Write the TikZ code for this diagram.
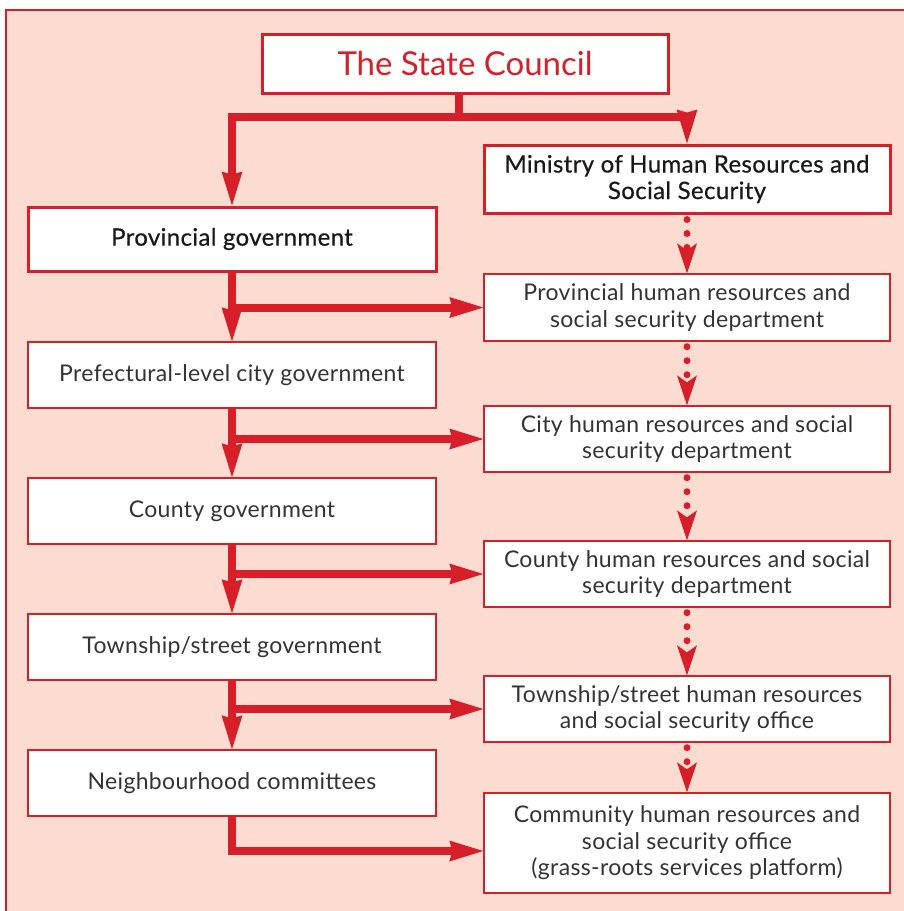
\documentclass[tikz,border=0pt]{standalone}
\usepackage{fontspec}
\setmainfont[LetterSpace=1.5]{Lato}
\newfontfamily\medfont[FakeBold=0.5,LetterSpace=1.5]{Lato}
\newfontfamily\titlefont{Lato}
\usetikzlibrary{arrows.meta}
\definecolor{cred}{HTML}{D71F2A}
\definecolor{cbg}{HTML}{FCDCD0}
\definecolor{ctext}{HTML}{333333}
\begin{document}
\begin{tikzpicture}[x=1pt,y=-1pt,
  box/.style={draw=cred, fill=white, line width=1.4pt, inner sep=0pt, align=center,
    minimum width=408pt, minimum height=66pt, text=ctext,
    font=\fontsize{23pt}{26.5pt}\selectfont},
  rbox/.style={box, minimum width=406pt},
  bold/.style={line width=3pt, font=\medfont\fontsize{24pt}{26.5pt}\selectfont, text=black!90},
  line/.style={draw=cred, line width=8pt, line join=miter},
  arr/.style={line, -{Stealth[length=34pt,width=21pt,inset=3pt,line width=0pt]}},
  dotarr/.style={draw=cred, line width=7pt, line cap=round, dash pattern=on 0pt off 14pt, dash phase=9pt,
    -{Stealth[length=30pt,width=20pt,inset=7pt,line width=0pt]}}
]
\useasboundingbox (0,0) rectangle (904,911);
\clip (0,0) rectangle (904,911);
\fill[cbg] (6,10) rectangle (910,920);
\draw[cred, line width=1.5pt] (6,920) -- (6,10) -- (910,10);

% nodes
\node[box, bold, minimum width=406pt, minimum height=59pt, text=cred,
  font=\titlefont\fontsize{33pt}{38pt}\selectfont] (sc) at (465,63.5) {The State Council};
\node[rbox, bold, minimum height=68pt] (min) at (687,179) {Ministry of Human Resources and\\Social Security};
\node[box, bold, minimum height=64pt] (pg) at (232,239) {Provincial government};
\node[box] (pc) at (232,375) {Prefectural-level city government};
\node[box] (co) at (232,511) {County government};
\node[box] (tw) at (232,647) {Township/street government};
\node[box] (nb) at (232,783) {Neighbourhood committees};

\node[rbox, minimum height=67pt] (phr) at (687,307.5) {Provincial human resources and\\social security department};
\node[rbox] (chr) at (687,439) {City human resources and social\\security department};
\node[rbox] (cohr) at (687,574) {County human resources and social\\security department};
\node[rbox] (twhr) at (687,709) {Township/street human resources\\and social security office};
\node[rbox, minimum height=100pt] (cm) at (687,843) {Community human resources and\\social security office\\(grass-roots services platform)};

% top connectors
\coordinate (j) at (459,117);
\draw[line] (sc.south -| j) -- (j);
\draw[arr] (j) -| (pg.north);
\draw[arr] (j) -| (min.north);

% left column
\draw[arr] (pg.south) -- (pc.north);
\draw[arr] (pg.south |- phr.west) -- (phr.west);
\draw[arr] (pc.south) -- (co.north);
\draw[arr] (pc.south |- chr.west) -- (chr.west);
\draw[arr] (co.south) -- (tw.north);
\draw[arr] (co.south |- cohr.west) -- (cohr.west);
\draw[arr] (tw.south) -- (nb.north);
\draw[arr] (tw.south |- twhr.west) -- (twhr.west);
\draw[arr] (nb.south) |- ([yshift=-8pt]cm.west);

% right column dotted
\draw[dotarr] (min.south) -- (phr.north);
\draw[dotarr] (phr.south) -- (chr.north);
\draw[dotarr] (chr.south) -- (cohr.north);
\draw[dotarr] (cohr.south) -- (twhr.north);
\draw[dotarr] (twhr.south) -- (cm.north);
\end{tikzpicture}
\end{document}
